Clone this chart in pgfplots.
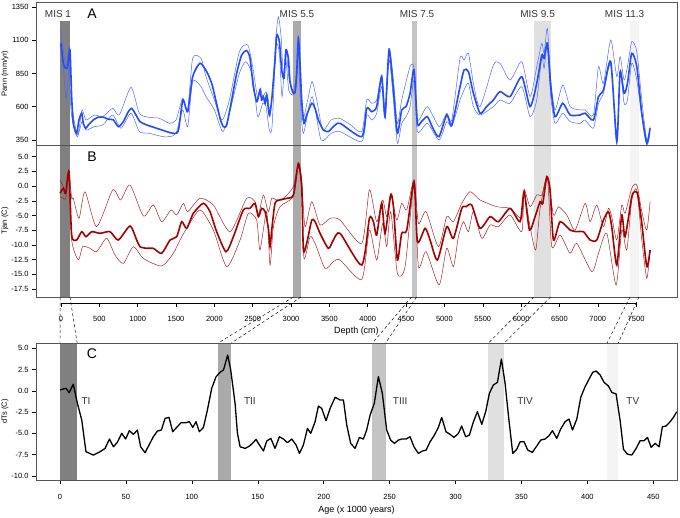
\documentclass[border=0pt]{standalone}
\usepackage{fontspec}
\setmainfont{Liberation Sans}
\usepackage{pgfplots}
\pgfplotsset{compat=1.18}

\definecolor{bluem}{RGB}{35,75,255}
\definecolor{bluet}{RGB}{75,105,255}
\definecolor{redm}{RGB}{165,0,0}
\definecolor{redt}{RGB}{170,35,35}
\definecolor{frame}{RGB}{85,85,85}
\definecolor{g1}{RGB}{128,128,128}
\definecolor{g2}{RGB}{170,170,170}
\definecolor{g3}{RGB}{196,196,196}
\definecolor{g4}{RGB}{224,224,224}
\definecolor{g5}{RGB}{244,244,244}

\pgfplotsset{
  rstyle/.style={
    scale only axis, width=641pt,
    axis on top,
    axis line style={frame, line width=0.6pt},
    tick style={black, line width=0.5pt},
    tick align=outside, major tick length=4pt,
    ytick pos=left, xtick pos=bottom,
    tick label style={font=\fontsize{7.5}{9}\selectfont},
    /pgf/number format/assume math mode=true,
    every axis y label/.style={at={(rel axis cs:-0.0484,0.5)}, rotate=90, anchor=center, font=\fontsize{7.5}{9}\selectfont},
  },
}
\tikzset{
  misl/.style={font=\fontsize{10}{12}\selectfont, text=black!80},
  panl/.style={font=\fontsize{14}{16}\selectfont},
}

\begin{document}
\begin{tikzpicture}
\useasboundingbox (0,0) rectangle (680pt,-517pt);

% ---------------- Panel A ----------------
\begin{axis}[rstyle, at={(36pt,-2pt)}, anchor=north west, height=143pt,
  xmin=-326, xmax=8033, ymin=312, ymax=1388,
  xtick=\empty, ytick={350,600,850,1100,1350}, yticklabels={350,600,850,1100,1350},
  ylabel={Pann (mm/yr)}]
\fill[g1] (axis cs:-10,312) rectangle (axis cs:117,1247);
\fill[g2] (axis cs:3030,312) rectangle (axis cs:3130,1247);
\fill[g3] (axis cs:4572,312) rectangle (axis cs:4637,1247);
\fill[g4] (axis cs:6167,312) rectangle (axis cs:6385,1247);
\fill[g5] (axis cs:7419,312) rectangle (axis cs:7536,1247);
\addplot[bluet, line width=0.5pt, smooth, tension=0.4] coordinates {
(-10,1190)(65,901)(109,1052)(144,601)(217,388)(274,576)(326,500)(435,538)(544,526)(674,588)(761,538)(913,746)(1022,551)(1152,520)(1283,513)(1413,475)(1500,500)(1587,663)(1652,576)(1717,964)(1826,964)(1891,826)(2000,651)(2100,500)(2196,651)(2326,1014)(2435,1064)(2500,901)(2565,663)(2600,739)(2631,676)(2674,713)(2704,651)(2726,526)(2761,751)(2804,1127)(2835,1277)(2870,1127)(2900,826)(2935,1027)(2970,826)(3022,701)(3065,826)(3096,1127)(3122,751)(3152,500)(3217,651)(3274,789)(3335,651)(3413,425)(3522,500)(3630,513)(3761,470)(3922,413)(3987,651)(4052,626)(4117,651)(4182,839)(4226,576)(4278,1039)(4335,801)(4387,475)(4443,651)(4552,901)(4604,889)(4648,500)(4778,601)(4930,450)(5030,551)(5096,500)(5204,964)(5256,951)(5313,1002)(5378,776)(5465,601)(5639,914)(5726,926)(5856,801)(6009,939)(6117,676)(6204,901)(6270,1077)(6300,1002)(6343,1190)(6387,801)(6443,576)(6543,764)(6639,601)(6769,576)(6835,576)(6943,538)(7009,901)(7074,776)(7169,1102)(7248,826)(7291,977)(7343,801)(7387,901)(7443,1089)(7509,1014)(7574,651)(7639,350)(7682,450)
};
\addplot[bluet, line width=0.5pt, smooth, tension=0.4] coordinates {
(-13,1077)(22,977)(65,663)(109,901)(130,576)(174,425)(217,375)(274,488)(326,425)(435,450)(544,463)(674,538)(783,438)(913,551)(1022,413)(1152,400)(1326,375)(1413,375)(1500,400)(1587,576)(1652,450)(1717,789)(1826,751)(1891,676)(2000,576)(2109,413)(2196,551)(2326,851)(2413,939)(2500,826)(2565,526)(2631,626)(2674,600)(2717,425)(2752,450)(2804,1052)(2848,1002)(2883,676)(2926,977)(2970,726)(3022,688)(3065,751)(3096,1027)(3122,651)(3161,400)(3274,676)(3391,350)(3522,400)(3639,413)(3922,338)(3987,538)(4052,500)(4117,551)(4182,751)(4226,513)(4278,951)(4335,651)(4387,325)(4443,475)(4500,525)(4552,600)(4604,801)(4648,413)(4778,475)(4930,350)(5030,488)(5096,450)(5204,651)(5256,726)(5313,776)(5378,601)(5465,538)(5639,601)(5726,651)(5856,626)(6009,751)(6117,525)(6204,651)(6270,976)(6300,889)(6343,1064)(6387,676)(6443,475)(6543,551)(6639,488)(6769,475)(6835,500)(6943,438)(7009,626)(7074,701)(7169,914)(7248,312)(7291,851)(7343,626)(7387,651)(7443,927)(7509,801)(7574,525)(7639,312)(7682,400)
};
\addplot[bluem, line width=1.6pt, smooth, tension=0.4] coordinates {
(0,1077)(30,926)(61,889)(87,901)(117,1027)(139,676)(161,475)(204,400)(235,501)(270,551)(291,475)(322,438)(357,463)(422,501)(487,521)(552,521)(617,506)(683,501)(748,450)(813,488)(878,563)(922,588)(965,551)(1030,488)(1117,463)(1248,438)(1378,413)(1465,400)(1530,420)(1590,651)(1652,563)(1717,826)(1813,927)(1900,864)(1965,776)(2008,676)(2074,513)(2117,450)(2161,463)(2226,651)(2291,851)(2356,989)(2421,1022)(2465,964)(2508,751)(2552,638)(2574,676)(2595,726)(2617,651)(2639,676)(2661,626)(2682,688)(2717,538)(2748,651)(2791,952)(2813,1140)(2848,1089)(2878,877)(2908,814)(2934,1027)(2965,964)(2987,789)(3022,713)(3052,706)(3074,851)(3095,1114)(3117,926)(3139,651)(3169,475)(3204,538)(3270,626)(3313,588)(3356,501)(3421,425)(3487,413)(3552,450)(3639,475)(3922,375)(3987,588)(4052,563)(4117,601)(4182,826)(4226,525)(4278,1027)(4335,726)(4387,400)(4443,576)(4500,601)(4552,701)(4604,877)(4648,475)(4700,488)(4778,525)(4850,438)(4930,375)(5030,538)(5096,463)(5204,751)(5256,876)(5313,864)(5378,701)(5465,551)(5550,601)(5639,651)(5726,714)(5856,676)(6009,826)(6117,601)(6204,776)(6270,989)(6300,964)(6343,1077)(6387,751)(6443,525)(6543,626)(6639,538)(6769,538)(6835,551)(6943,500)(7009,676)(7074,726)(7169,939)(7248,340)(7291,864)(7343,701)(7387,776)(7443,1002)(7509,901)(7574,551)(7639,325)(7682,438)
};
\node[misl] at (axis cs:-39,1297) {MIS 1};
\node[misl] at (axis cs:3077,1297) {MIS 5.5};
\node[misl] at (axis cs:4643,1297) {MIS 7.5};
\node[misl] at (axis cs:6215,1297) {MIS 9.5};
\node[misl] at (axis cs:7350,1297) {MIS 11.3};
\node[panl] at (axis cs:404,1297) {A};
\end{axis}

% ---------------- Panel B ----------------
\begin{axis}[rstyle, at={(36pt,-145pt)}, anchor=north west, height=152pt,
  xmin=-326, xmax=8033, ymin=-18.86, ymax=6.99,
  xtick=\empty, ytick={-17.5,-15,-12.5,-10,-7.5,-5,-2.5,0,2.5,5},
  yticklabels={-17.5,-15.0,-12.5,-10.0,-7.5,-5.0,-2.5,0.0,2.5,5.0},
  ylabel={Tjan (C)}]
\fill[g1] (axis cs:-10,-18.86) rectangle (axis cs:117,6.99);
\fill[g2] (axis cs:3030,-18.86) rectangle (axis cs:3130,6.99);
\fill[g3] (axis cs:4572,-18.86) rectangle (axis cs:4637,6.99);
\fill[g4] (axis cs:6167,-18.86) rectangle (axis cs:6385,6.99);
\fill[g5] (axis cs:7419,-18.86) rectangle (axis cs:7536,6.99);
\addplot[redt, line width=0.5pt, smooth, tension=0.4] coordinates {
(-13,1.04)(30,-0.10)(61,-1.0)(104,2.45)(139,-2.08)(161,-2.08)(235,-5.48)(313,-0.95)(465,-6.90)(674,-0.66)(778,-2.36)(900,0.19)(1074,-5.08)(1204,-3.21)(1313,-6.05)(1435,-4.06)(1509,-4.92)(1596,-2.93)(1652,-4.35)(1813,-2.08)(1987,-3.21)(2204,-7.75)(2421,-2.08)(2530,-2.65)(2574,-4.92)(2639,-1.51)(2704,-4.35)(2748,-2.08)(2813,-2.36)(2900,-2.08)(3030,-0.10)(3095,3.87)(3139,1.04)(3182,-6.90)(3270,-2.65)(3378,-6.62)(3509,-5.48)(3639,-5.77)(3922,-9.73)(4022,-0.66)(4117,-6.05)(4195,-2.36)(4248,-5.20)(4300,-1.23)(4378,-5.77)(4443,-2.93)(4509,-4.06)(4604,1.04)(4661,-6.33)(4761,-4.35)(4922,-10.30)(5030,-5.20)(5117,-6.05)(5226,-2.93)(5335,-0.95)(5465,-2.36)(5682,-3.50)(5856,-3.78)(6009,-5.48)(6039,-0.55)(6117,-3.50)(6204,-1.51)(6270,-1.51)(6343,1.72)(6422,-4.92)(6487,-3.50)(6596,-4.92)(6704,-7.47)(6835,-2.93)(6900,-6.05)(6987,-3.21)(7074,-6.90)(7139,-3.78)(7182,-5.20)(7248,-9.17)(7313,-3.21)(7356,-4.63)(7443,-0.38)(7509,0.19)(7574,-4.35)(7639,-7.47)(7682,-2.65)
};
\addplot[redt, line width=0.5pt, smooth, tension=0.4] coordinates {
(-13,-1.80)(30,-2.08)(61,-2.08)(104,1.60)(139,-9.17)(226,-12.57)(282,-10.30)(378,-10.58)(465,-11.15)(596,-8.88)(704,-11.72)(813,-13.14)(943,-10.30)(1074,-12.29)(1313,-13.59)(1465,-11.43)(1552,-9.17)(1639,-7.18)(1813,-4.06)(1987,-7.47)(2161,-13.70)(2335,-9.17)(2443,-4.63)(2552,-5.77)(2595,-10.87)(2682,-4.35)(2726,-13.42)(2770,-6.90)(2856,-3.50)(3030,-1.80)(3095,3.30)(3139,-0.66)(3169,-12.29)(3248,-8.60)(3313,-9.73)(3443,-13.99)(3552,-12.85)(3639,-12.57)(3922,-15.86)(4022,-7.47)(4117,-12.57)(4195,-6.33)(4248,-10.30)(4300,-4.35)(4387,-14.84)(4487,-13.70)(4604,0.19)(4661,-13.70)(4761,-11.15)(4930,-16.82)(5030,-10.58)(5117,-13.70)(5182,-8.60)(5248,-6.05)(5313,-7.75)(5378,-4.35)(5487,-8.88)(5595,-6.62)(5704,-6.90)(5856,-4.92)(6009,-7.75)(6039,-1.23)(6117,-6.90)(6191,-10.87)(6248,-3.78)(6343,1.32)(6400,-10.30)(6509,-8.32)(6639,-11.43)(6726,-9.73)(6922,-14.55)(7009,-11.43)(7117,-8.03)(7239,-16.82)(7313,-7.47)(7378,-10.87)(7443,-2.36)(7509,-0.66)(7574,-9.17)(7639,-15.69)(7682,-10.87)
};
\addplot[redm, line width=1.6pt, smooth, tension=0.4] coordinates {
(-13,-1.23)(30,-0.38)(61,-1.23)(104,2.45)(139,-8.32)(204,-9.17)(270,-7.75)(326,-8.60)(400,-7.75)(509,-8.03)(639,-7.75)(748,-9.17)(900,-6.79)(987,-9.17)(1030,-10.30)(1117,-10.58)(1204,-10.58)(1313,-11.43)(1422,-9.17)(1509,-8.60)(1574,-6.05)(1639,-7.18)(1726,-4.63)(1856,-2.93)(1943,-4.35)(2030,-7.75)(2152,-11.15)(2248,-8.60)(2378,-4.06)(2465,-3.78)(2530,-2.93)(2574,-5.20)(2617,-3.78)(2661,-4.35)(2704,-7.18)(2726,-10.30)(2748,-7.47)(2791,-2.93)(2856,-2.36)(2943,-2.08)(3030,-1.51)(3095,3.87)(3139,-0.10)(3161,-10.87)(3204,-9.73)(3270,-5.77)(3313,-6.05)(3378,-8.03)(3487,-10.58)(3552,-9.17)(3639,-8.03)(3922,-13.42)(4022,-5.48)(4074,-6.05)(4117,-8.32)(4182,-2.93)(4226,-8.03)(4300,-1.51)(4335,-3.50)(4387,-12.57)(4443,-8.03)(4509,-7.47)(4604,0.75)(4648,-9.45)(4748,-7.18)(4813,-9.17)(4909,-12.57)(5030,-6.90)(5117,-8.88)(5226,-3.78)(5282,-3.50)(5356,-3.21)(5465,-7.18)(5595,-5.20)(5704,-6.05)(5856,-3.78)(5987,-6.05)(6039,-0.95)(6109,-7.47)(6182,-5.20)(6248,-2.65)(6283,-2.93)(6335,1.60)(6378,-0.66)(6422,-9.17)(6509,-6.05)(6639,-7.47)(6726,-7.75)(6813,-7.75)(6900,-9.17)(6987,-9.17)(7074,-5.77)(7139,-4.35)(7182,-6.90)(7248,-13.42)(7313,-4.92)(7356,-8.60)(7443,-1.80)(7487,-0.95)(7522,-1.51)(7574,-6.33)(7639,-13.70)(7682,-10.87)
};
\node[panl] at (axis cs:404,5.0) {B};
\coordinate (d1a) at (axis cs:-10,-18.86);
\coordinate (d1b) at (axis cs:117,-18.86);
\coordinate (d2a) at (axis cs:3030,-18.86);
\coordinate (d2b) at (axis cs:3130,-18.86);
\coordinate (d3a) at (axis cs:4572,-18.86);
\coordinate (d3b) at (axis cs:4637,-18.86);
\coordinate (d4a) at (axis cs:6167,-18.86);
\coordinate (d4b) at (axis cs:6385,-18.86);
\coordinate (d5a) at (axis cs:7419,-18.86);
\coordinate (d5b) at (axis cs:7536,-18.86);
\end{axis}

% ---------------- Depth axis ----------------
\begin{axis}[scale only axis, width=641pt, height=8pt, at={(36pt,-303pt)}, anchor=south west,
  xmin=-326, xmax=8033, ymin=0, ymax=1,
  axis x line*=bottom, axis y line=none,
  x axis line style={draw=none},
  tick style={black, line width=0.5pt}, tick align=outside, major tick length=4pt,
  xtick={0,500,...,7500},
  xticklabels={0,500,1000,1500,2000,2500,3000,3500,4000,4500,5000,5500,6000,6500,7000,7500},
  tick label style={font=\fontsize{7.5}{9}\selectfont},
  xticklabel style={yshift=-6pt},
  /pgf/number format/assume math mode=true,
  xlabel={Depth (cm)}, xlabel style={at={(axis description cs:0.5,0)}, anchor=center, yshift=-28pt, font=\fontsize{9}{11}\selectfont}]
\draw[black, line width=0.5pt] (axis cs:0,0) -- (axis cs:7500,0);
\end{axis}

% ---------------- Panel C ----------------
\begin{axis}[rstyle, at={(36pt,-343pt)}, anchor=north west, height=137pt,
  xmin=-18.2, xmax=468, ymin=-10.5, ymax=5.62,
  xtick={0,50,...,450}, xticklabels={0,50,100,150,200,250,300,350,400,450},
  ytick={-10,-7.5,-5,-2.5,0,2.5,5},
  yticklabels={-10.0,-7.5,-5.0,-2.5,0.0,2.5,5.0},
  ylabel={dTs (C)},
  xlabel={Age (x 1000 years)}, xlabel style={at={(axis description cs:0.5,0)}, anchor=center, yshift=-30pt, font=\fontsize{9}{11}\selectfont},
  xticklabel style={yshift=-7pt}]
\fill[g1] (axis cs:0,-10.5) rectangle (axis cs:13,5.62);
\fill[g2] (axis cs:120,-10.5) rectangle (axis cs:130,5.62);
\fill[g3] (axis cs:237,-10.5) rectangle (axis cs:247,5.62);
\fill[g4] (axis cs:325,-10.5) rectangle (axis cs:337,5.62);
\fill[g5] (axis cs:415,-10.5) rectangle (axis cs:423.5,5.62);
\addplot[black, line width=1.3pt, line join=round] coordinates {
(0,0.09)(2.5,0.21)(4.6,0.29)(6.9,-0.22)(10.1,0.76)(13.2,-1.48)(16.5,-3.44)(19.7,-7.17)(25.3,-7.57)(30.4,-7.17)(34.2,-6.78)(37.5,-5.68)(40.5,-6.59)(43.5,-6.07)(46.8,-5.01)(49.8,-5.68)(52.6,-4.70)(55.7,-5.13)(58.7,-4.62)(61.2,-6.59)(64.5,-7.29)(67.5,-6.39)(70.8,-5.41)(73.9,-4.74)(76.9,-4.62)(79.7,-3.25)(82.7,-3.13)(85.5,-4.82)(88.5,-4.31)(91.8,-3.76)(95.4,-3.76)(98.1,-3.64)(100.7,-4.31)(103.2,-3.64)(105.7,-4.82)(108.8,-4.31)(111.8,-2.27)(115.1,0.29)(118.4,1.66)(121.4,2.17)(124.0,2.44)(127.2,4.21)(129.5,2.44)(132.8,-1.48)(134.6,-5.01)(136.6,-6.59)(140.4,-6.78)(143.7,-6.51)(146.7,-6.07)(148.7,-5.72)(150.5,-6.19)(154.3,-7.09)(156.8,-5.92)(159.9,-5.60)(163.1,-6.78)(166.4,-5.41)(169.5,-5.68)(172.5,-6.11)(175.8,-5.68)(179.1,-6.39)(181.6,-7.37)(184.6,-6.39)(187.7,-4.43)(190.2,-5.01)(193.5,-3.64)(196.0,-1.80)(198.5,-2.07)(201.8,-3.52)(204.9,-2.07)(208.7,-0.77)(212.5,-1.09)(215.0,-1.09)(217.5,-4.03)(220.5,-6.19)(223.8,-6.78)(227.1,-5.49)(230.1,-5.68)(232.6,-4.62)(235.2,-2.86)(238.4,-1.48)(241.5,1.66)(244.5,-0.30)(247.8,-4.62)(250.8,-5.80)(253.6,-6.19)(256.7,-5.80)(259.2,-5.68)(262.5,-5.68)(265.5,-5.41)(268.5,-6.59)(271.8,-7.37)(274.9,-7.09)(277.7,-6.98)(280.7,-6.00)(284.0,-5.21)(287.0,-4.31)(289.5,-3.13)(292.8,-4.82)(295.9,-5.13)(298.9,-5.49)(302.2,-5.01)(304.7,-4.15)(307.7,-5.41)(310.5,-5.21)(313.6,-3.64)(316.6,-2.46)(319.9,-3.95)(322.9,-2.46)(325.7,-0.30)(328.7,0.68)(331.8,0.99)(334.8,3.74)(337.6,0.88)(340.1,-2.86)(343.4,-7.37)(346.4,-6.90)(349.0,-6.00)(352.0,-6.00)(354.8,-6.98)(358.3,-7.25)(361.6,-6.51)(364.6,-5.80)(367.9,-5.68)(370.9,-5.29)(373.5,-4.70)(376.8,-5.60)(379.8,-4.50)(383.1,-3.64)(386.1,-3.33)(388.7,-4.62)(392.0,-3.33)(395.0,-0.77)(398.3,0.48)(401.6,1.46)(404.1,2.17)(406.6,2.33)(409.7,1.86)(412.7,0.99)(416.0,0.56)(418.5,-0.19)(421.8,-0.38)(424.8,-3.44)(427.4,-6.90)(430.4,-7.45)(433.7,-7.57)(437.0,-6.78)(440.0,-5.88)(443.0,-5.88)(445.6,-5.49)(448.4,-6.66)(451.4,-6.19)(454.4,-6.59)(456.9,-4.23)(459.7,-4.15)(462.8,-3.64)(465.3,-3.13)(467.8,-2.46)
};
\node[panl] at (axis cs:24.3,4.33) {C};
\node[misl] at (axis cs:19.7,-1.2) {TI};
\node[misl] at (axis cs:144,-1.2) {TII};
\node[misl] at (axis cs:258,-1.2) {TIII};
\node[misl] at (axis cs:352.8,-1.2) {TIV};
\node[misl] at (axis cs:434.5,-1.2) {TV};
\coordinate (t1a) at (axis cs:0,5.62);
\coordinate (t1b) at (axis cs:13,5.62);
\coordinate (t2a) at (axis cs:120,5.62);
\coordinate (t2b) at (axis cs:130,5.62);
\coordinate (t3a) at (axis cs:237,5.62);
\coordinate (t3b) at (axis cs:247,5.62);
\coordinate (t4a) at (axis cs:325,5.62);
\coordinate (t4b) at (axis cs:337,5.62);
\coordinate (t5a) at (axis cs:415,5.62);
\coordinate (t5b) at (axis cs:423.5,5.62);
\end{axis}

\foreach \i in {1,...,5}{
  \draw[black, line width=0.45pt, dash pattern=on 3pt off 2.5pt] (d\i a) -- (t\i a);
  \draw[black, line width=0.45pt, dash pattern=on 3pt off 2.5pt] (d\i b) -- (t\i b);
}
\end{tikzpicture}
\end{document}
